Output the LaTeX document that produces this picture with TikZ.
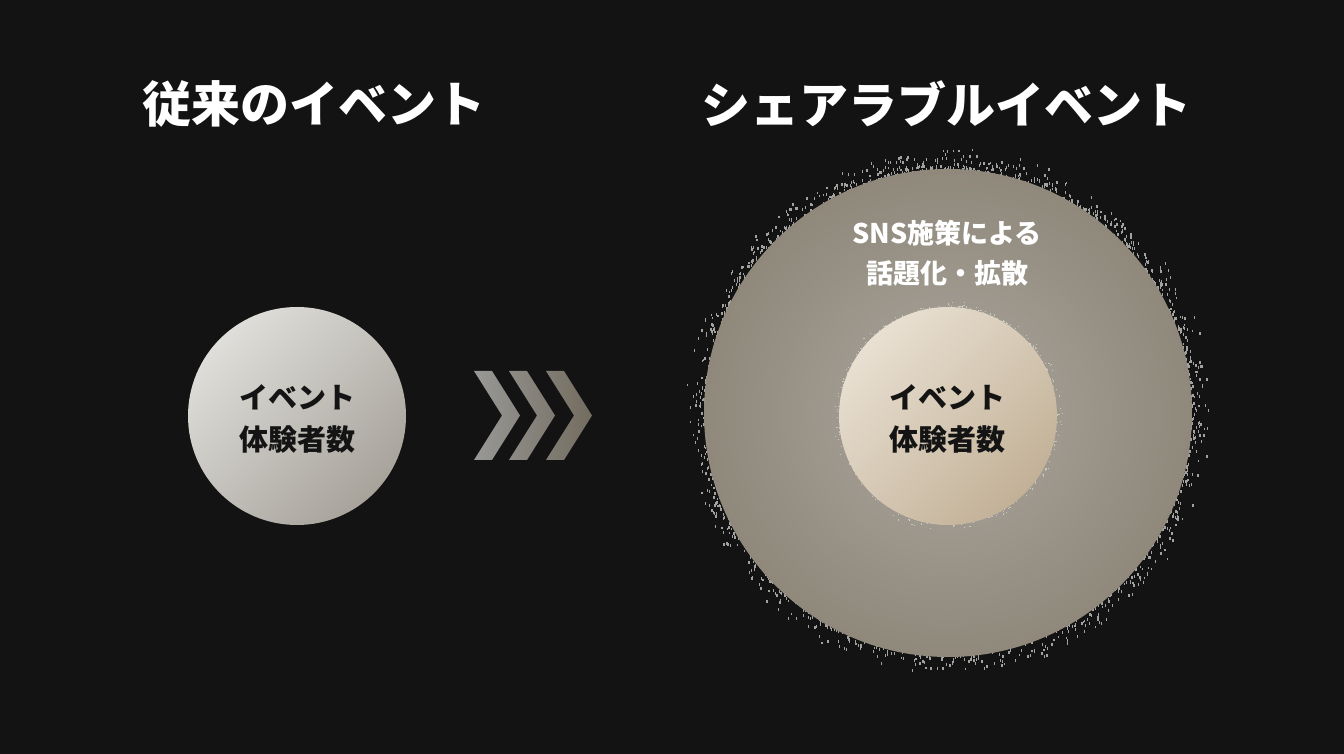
\documentclass[tikz,border=0pt]{standalone}
\usepackage{fontspec}
\setmainfont{Noto Sans CJK JP}
\definecolor{bg}{HTML}{131313}
\definecolor{leftA}{HTML}{DFDEDA}
\definecolor{leftB}{HTML}{A7A39B}
\definecolor{innA}{HTML}{E9E0D2}
\definecolor{innB}{HTML}{C2B197}
\definecolor{outA}{HTML}{ABA69E}
\definecolor{outB}{HTML}{8F887B}
\definecolor{chevA}{HTML}{989896}
\definecolor{chevB}{HTML}{736C5F}
\definecolor{speckc}{HTML}{A2A2A0}
\definecolor{inktext}{HTML}{141414}
\tikzset{
  title/.style={text=white,font=\fontsize{49}{58}\selectfont\bfseries,inner sep=0pt},
  circtext/.style={text=inktext,font=\fontsize{29}{42}\selectfont\bfseries,align=center,inner sep=0pt},
  snstext/.style={text=white,font=\fontsize{27}{40}\selectfont\bfseries,align=center,inner sep=0pt},
  ball/.style={circle,inner sep=0pt,draw=none},
  speck/.style={fill=speckc,draw=none},
  softspeck/.style={fill=white,fill opacity=0.45,draw=none}
}
\begin{document}
\begin{tikzpicture}[x=1pt,y=1pt]
\useasboundingbox (0,0) rectangle (1344,754);
\fill[bg] (0,0) rectangle (1344,754);

% titles
\node[title] (t1) at (313.5,650) {従来のイベント};
\node[title] (t2) at (946,650) {シェアラブルイベント};

% left circle
\node[ball,minimum size=218pt,top color=leftA,bottom color=leftB,shading angle=45] (left) at (297,338) {};
\node[circtext] (lefttext) at (297,335) {イベント\\体験者数};

% chevrons
\shade[left color=chevA,right color=chevB]
  \foreach \x in {474,509,546}{
    (\x,383) -- (\x+18,383) -- (\x+46,338.5) -- (\x+18,294) -- (\x,294) -- (\x+28,338.5) -- cycle
  };

% speckles round the outer circle
\coordinate (oc) at (948,341);
\pgfmathsetseed{4211}
\foreach \i in {1,...,1500}{
  \pgfmathsetmacro\ang{rnd*360}
  \pgfmathsetmacro\rad{241+24*rnd*rnd}
  \fill[speck] ([shift={(\ang:\rad)}]oc) rectangle ++(1.3,2.8);
}

% outer circle
\node[ball,minimum size=488pt,inner color=outA,outer color=outB] (outer) at (oc) {};

% faint speckles round the inner circle
\coordinate (ic) at (948,338);
\foreach \i in {1,...,260}{
  \pgfmathsetmacro\ang{rnd*360}
  \pgfmathsetmacro\rad{108+9*rnd*rnd}
  \fill[softspeck] ([shift={(\ang:\rad)}]ic) rectangle ++(1.1,1.1);
}

% inner circle
\node[ball,minimum size=218pt,top color=innA,bottom color=innB,shading angle=45] (inner) at (ic) {};
\node[circtext] (innertext) at (947,335) {イベント\\体験者数};

% SNS text
\node[snstext] (sns) at (947,501) {SNS施策による\\話題化・拡散};
\end{tikzpicture}
\end{document}
